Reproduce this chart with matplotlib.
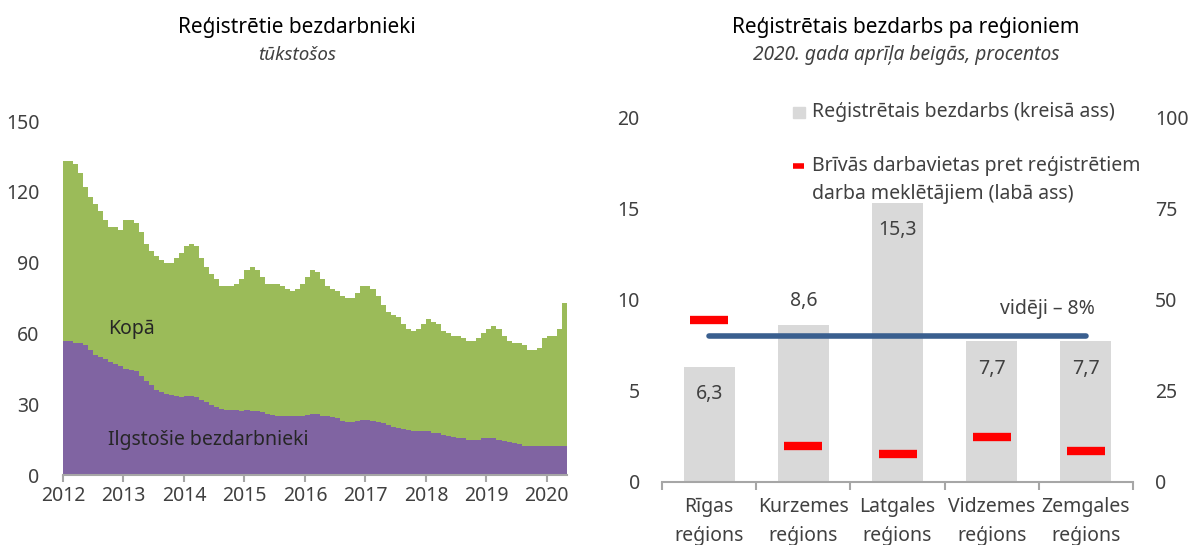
import numpy as np
import matplotlib.pyplot as plt
from matplotlib.patches import Rectangle
from matplotlib.lines import Line2D

plt.rcParams['font.family'] = ['Noto Sans', 'DejaVu Sans']

# registered unemployed, thousands, monthly from Jan 2012 to Apr 2020
kopa = [133, 133, 132, 128, 122, 118, 115, 112, 108, 105, 105, 104,
        108, 108, 107, 103, 98, 95, 93, 91, 90, 90, 92, 94,
        97, 98, 97, 92, 88, 85, 83, 80, 80, 80, 81, 83,
        87, 88, 87, 84, 81, 81, 81, 80, 79, 78, 79, 81,
        84, 87, 86, 83, 80, 79, 78, 76, 75, 75, 77, 80,
        80, 79, 76, 72, 69, 68, 67, 64, 62, 61, 62, 64,
        66, 65, 64, 61, 60, 59, 59, 58, 57, 57, 58, 60,
        62, 63, 62, 59, 57, 56, 56, 55, 53, 53, 54, 58,
        59, 59, 62, 73]
ilgstosie = [57, 57, 56, 56, 55, 53, 51, 50, 49, 48, 47, 46,
             45, 44.5, 44, 42, 40, 38, 36, 35, 34.5, 34, 33.5, 33,
             33.5, 33.5, 33, 32, 31, 29.5, 29, 28, 27.5, 27.5, 27.5, 27,
             27.5, 27, 27, 26.5, 26, 25.5, 25, 25, 25, 25, 25, 25,
             25.5, 26, 26, 25, 25, 24.5, 24, 23, 22.5, 22.5, 23, 23.5,
             23.5, 23, 22.5, 22, 21, 20.5, 20, 19.5, 19, 18.5, 18.5, 18.5,
             18.5, 18, 18, 17, 16.5, 16, 15.5, 15.5, 15, 15, 15, 15.5,
             15.5, 15.5, 15, 14.5, 14, 13.5, 13, 12.5, 12.5, 12.5, 12.5, 12.5,
             12.5, 12.5, 12.5, 12.5]
year_ticks = list(range(2012, 2021))

# regions, end of April 2020
regions = ['Rīgas\nreģions', 'Kurzemes\nreģions', 'Latgales\nreģions',
           'Vidzemes\nreģions', 'Zemgales\nreģions']
bezdarbs = [6.3, 8.6, 15.3, 7.7, 7.7]
vakances = [44.5, 9.9, 7.7, 12.4, 8.6]
videji = 8

green = '#9BBB59'
purple = '#8064A2'
txt = '#404040'
W, H = 1189, 545

fig = plt.figure(figsize=(11.89, 5.45), dpi=100)

# ---- left chart
ax = fig.add_axes([0.0530, 0.1284, 0.4239, 0.6495])
n = len(kopa)
x = 2012 + np.arange(n + 1) / 12
ax.fill_between(x, 0, kopa + [kopa[-1]], step='post', color=green, lw=0)
ax.fill_between(x, 0, ilgstosie + [ilgstosie[-1]], step='post', color=purple, lw=0)
ax.set_xlim(x[0], x[-1])
ax.set_ylim(0, 150)
ax.set_yticks(range(0, 151, 30))
ax.set_xticks(year_ticks)
ax.set_xticklabels([str(y) for y in year_ticks])
for s in ['top', 'right', 'left']:
    ax.spines[s].set_visible(False)
ax.spines['bottom'].set_color('#A6A6A6')
ax.spines['bottom'].set_linewidth(1.5)
ax.tick_params(axis='y', length=0, pad=17, labelsize=14, labelcolor=txt)
ax.tick_params(axis='x', length=5, width=1.5, color='#A6A6A6', direction='out',
               pad=3, labelsize=14, labelcolor=txt)
ax.text(2012.74, 62, 'Kopā', fontsize=14, color='#262626', va='center')
ax.text(2012.74, 14.8, 'Ilgstošie bezdarbnieki', fontsize=14, color='#262626', va='center')

fig.text(297 / W, 1 - 27 / H, 'Reģistrētie bezdarbnieki', ha='center', va='center',
         fontsize=15, color='black')
fig.text(297 / W, 1 - 55 / H, 'tūkstošos', ha='center', va='center',
         fontsize=13.5, style='italic', color=txt)

# ---- right chart
ax1 = fig.add_axes([0.5568, 0.1156, 0.3961, 0.6697])
pos = np.arange(len(regions))
ax1.bar(pos, bezdarbs, width=0.54, color='#D9D9D9', zorder=1)
label_inside = [True, False, True, True, True]
for p, v, inside in zip(pos, bezdarbs, label_inside):
    yy = v - 1.5 if inside else v + 1.3
    ax1.text(p, yy, f'{v:.1f}'.replace('.', ','), ha='center', va='center',
             fontsize=14, color=txt, zorder=5)
ax1.plot([pos[0], pos[-1]], [videji, videji], color='#3A5F8F', lw=4,
         solid_capstyle='round', zorder=3)
ax1.text(4.09, 9.5, 'vidēji – 8%', ha='right', va='center', fontsize=14, color=txt)
ax1.set_xlim(-0.5, len(regions) - 0.5)
ax1.set_ylim(0, 20)
ax1.set_yticks(range(0, 21, 5))
ax1.set_xticks(pos)
ax1.set_xticklabels(regions, linespacing=1.55)
ax1.set_xticks(np.arange(-0.5, len(regions)), minor=True)
for s in ['top', 'right', 'left']:
    ax1.spines[s].set_visible(False)
ax1.spines['bottom'].set_color('#A6A6A6')
ax1.spines['bottom'].set_linewidth(1.5)
ax1.tick_params(axis='y', length=0, pad=16, labelsize=14, labelcolor=txt)
ax1.tick_params(axis='x', which='major', length=0, pad=11, labelsize=14, labelcolor=txt)
ax1.tick_params(axis='x', which='minor', length=6, width=1.5, color='#A6A6A6')

ax2 = ax1.twinx()
ax2.plot(pos, vakances, ls='none', marker='_', markersize=27, mew=6,
         color='#FF0000', zorder=4)
ax2.set_ylim(0, 100)
ax2.set_yticks(range(0, 101, 25))
for s in ['top', 'right', 'left', 'bottom']:
    ax2.spines[s].set_visible(False)
ax2.tick_params(axis='y', length=0, pad=16, labelsize=14, labelcolor=txt)

# legend, drawn by hand so the red key sits on the first text line
fig.add_artist(Rectangle((793 / W, 1 - 118 / H), 12 / W, 11 / H,
                         transform=fig.transFigure, color='#D9D9D9'))
fig.add_artist(Line2D([793 / W, 804 / W], [1 - 166 / H, 1 - 166 / H],
                      transform=fig.transFigure, color='#FF0000', lw=4,
                      solid_capstyle='butt'))
fig.text(812 / W, 1 - 112 / H, 'Reģistrētais bezdarbs (kreisā ass)',
         va='center', fontsize=14, color=txt)
fig.text(812 / W, 1 - 156 / H,
         'Brīvās darbavietas pret reģistrētiem\ndarba meklētājiem (labā ass)',
         va='top', fontsize=14, color=txt, linespacing=1.55)

fig.text(906 / W, 1 - 27 / H, 'Reģistrētais bezdarbs pa reģioniem', ha='center',
         va='center', fontsize=15, color='black')
fig.text(906 / W, 1 - 55 / H, '2020. gada aprīļa beigās, procentos', ha='center',
         va='center', fontsize=13.8, style='italic', color=txt)

fig.savefig('out.png', dpi=100)
